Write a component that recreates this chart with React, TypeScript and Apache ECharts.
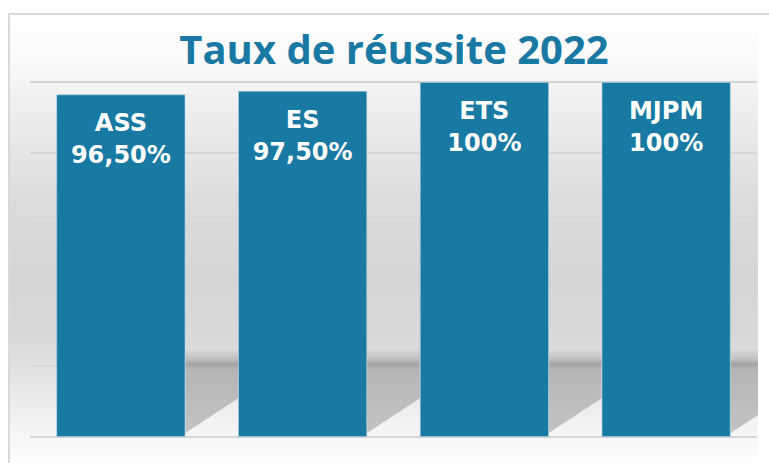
import React, { useEffect, useRef } from "react";
import * as echarts from "echarts";

const TITLE = "Taux de réussite 2022";
const CATEGORIES = ["ASS", "ES", "ETS", "MJPM"];
const VALUES = [96.5, 97.5, 100, 100];
const Y_MIN = 0;
const Y_MAX = 100;
const Y_INTERVAL = 20;
const SHADOW_LEVEL = 25; // height (in axis units) where the floor shadow starts

const BAR_COLOR = "#1879a2";
const TITLE_COLOR = "#1a79a3";
const BAR_RATIO = 0.71;

function formatPct(v: number): string {
  return Number.isInteger(v) ? `${v}%` : `${v.toFixed(2).replace(".", ",")}%`;
}

export default function App() {
  const ref = useRef<HTMLDivElement>(null);

  useEffect(() => {
    document.body.style.margin = "0";
    if (!ref.current) return;
    const chart = echarts.init(ref.current, undefined, { renderer: "svg" });

    const shadowFill = new echarts.graphic.LinearGradient(0, 0, 0, 1, [
      { offset: 0, color: "rgba(110,110,110,0)" },
      { offset: 0.12, color: "rgba(110,110,110,0.25)" },
      { offset: 0.18, color: "rgba(105,105,105,0.48)" },
      { offset: 0.26, color: "rgba(115,115,115,0.4)" },
      { offset: 1, color: "rgba(120,120,120,0.4)" },
    ]);

    const option: any = {
      animation: false,
      backgroundColor: "#ffffff",
      title: {
        text: TITLE,
        left: 394,
        top: 28,
        padding: 0,
        textAlign: "center",
        textVerticalAlign: "top",
        textStyle: {
          fontFamily: "Open Sans",
          fontWeight: "bold",
          fontSize: 40,
          lineHeight: 40,
          color: TITLE_COLOR,
        },
      },
      graphic: [
        {
          type: "rect",
          z: -10,
          silent: true,
          shape: { x: 10, y: 15, width: 748, height: 448 },
          style: {
            fill: new echarts.graphic.LinearGradient(0, 0, 0, 1, [
              { offset: 0, color: "#ffffff" },
              { offset: 0.1, color: "#fafafa" },
              { offset: 0.234, color: "#ececec" },
              { offset: 0.413, color: "#dcdcdc" },
              { offset: 0.592, color: "#d5d5d5" },
              { offset: 0.725, color: "#d9d9d9" },
              { offset: 0.859, color: "#ebebeb" },
              { offset: 0.942, color: "#f7f7f7" },
              { offset: 1, color: "#fdfdfd" },
            ]),
          },
        },
        {
          type: "rect",
          z: -9,
          silent: true,
          shape: { x: 9, y: 14, width: 800, height: 500 },
          style: { fill: "none", stroke: "#d9d9d9", lineWidth: 2 },
        },
      ],
      grid: { left: 30, right: 12, top: 82, bottom: 26 },
      xAxis: {
        type: "category",
        data: CATEGORIES,
        axisLine: { show: false },
        axisTick: { show: false },
        axisLabel: { show: false },
      },
      yAxis: {
        type: "value",
        min: Y_MIN,
        max: Y_MAX,
        interval: Y_INTERVAL,
        axisLine: { show: false },
        axisTick: { show: false },
        axisLabel: { show: false },
        splitLine: { lineStyle: { color: "#d6d6d6", width: 2 } },
      },
      series: [
        {
          type: "custom",
          z: 1,
          silent: true,
          data: VALUES.map((v, i) => [i, v]),
          encode: { x: 0, y: 1 },
          renderItem: (params: any, api: any) => {
            const idx = api.value(0);
            const base = api.coord([idx, Y_MIN]);
            const top = api.coord([idx, SHADOW_LEVEL]);
            const catW = api.size([1, 0])[0];
            const barW = catW * BAR_RATIO;
            const cs = params.coordSys;
            const x0 = base[0] + barW / 2;
            const x1 = Math.min(base[0] + catW / 2 + (catW - barW) / 2, cs.x + cs.width + 1);
            const y0 = base[1] - 4;
            const dx = x1 - x0;
            return {
              type: "polygon",
              shape: {
                points: [
                  [x0, top[1]],
                  [x1, top[1]],
                  [x1, y0 - 0.66 * dx],
                  [x0, y0],
                ],
              },
              style: { fill: shadowFill },
            };
          },
        },
        {
          type: "bar",
          z: 2,
          data: VALUES,
          barWidth: `${BAR_RATIO * 100}%`,
          itemStyle: {
            color: BAR_COLOR,
            borderColor: "rgba(170,205,222,0.8)",
            borderWidth: 0.8,
          },
          label: {
            show: true,
            position: "insideTop",
            distance: 13,
            formatter: (p: any) => `${p.name}\n${formatPct(p.value)}`,
            color: "#ffffff",
            fontFamily: "DejaVu Sans",
            fontWeight: "bold",
            fontSize: 24,
            lineHeight: 32,
          },
        },
      ],
    };

    chart.setOption(option);
    return () => chart.dispose();
  }, []);

  return <div ref={ref} style={{ width: 769, height: 463 }} />;
}
